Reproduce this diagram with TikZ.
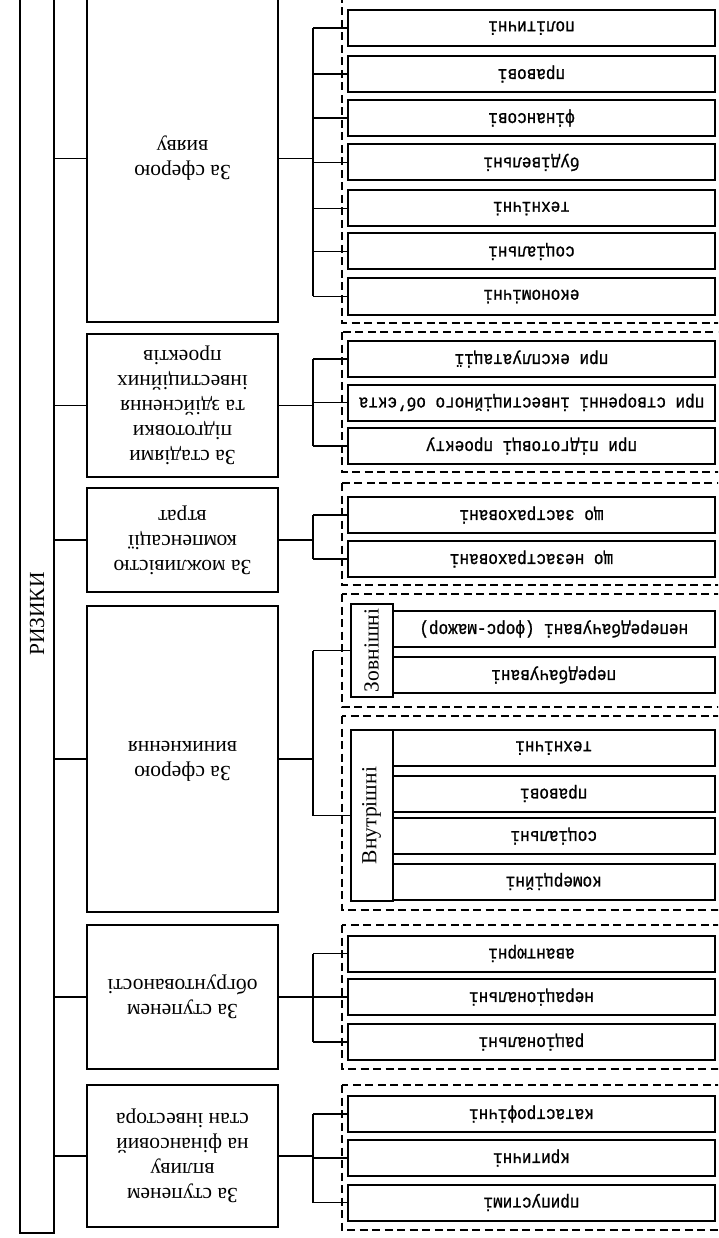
\documentclass[tikz,border=0pt]{standalone}
\usepackage{fontspec}
\setmainfont{Liberation Serif}
\newfontfamily\itemfont[FakeBold=1.2]{Liberation Mono}
\usepackage{graphicx}
\def\flip#1{\rotatebox[origin=c]{180}{\begin{tabular}{@{}c@{}}#1\end{tabular}}}
\def\flipt#1{\rotatebox[origin=c]{180}{\scalebox{1}[1.15]{#1}}}

\begin{document}
\begin{tikzpicture}[x=1pt, y=-1pt,
  cat/.style={draw, line width=2pt, minimum width=191pt, inner sep=0pt, font=\fontsize{21.5}{25}\selectfont},
  item/.style={draw, line width=2pt, minimum width=367pt, minimum height=36pt, inner sep=0pt, font=\fontsize{16}{19}\selectfont\itemfont},
  sub/.style={item, minimum width=322.5pt},
  side/.style={draw, line width=2pt, minimum width=42pt, inner sep=0pt, font=\fontsize{21.5}{25}\selectfont},
  grp/.style={draw, dash pattern=on 8pt off 4.5pt, line width=1.4pt},
  lnk/.style={line width=1.1pt}
]
\clip (0,0) rectangle (718,1238);
\coordinate (brk) at (313,0);

\node[draw, line width=2pt, minimum width=34pt, minimum height=1238pt, inner sep=0pt, font=\fontsize{21.5}{25}\selectfont] (risk) at (37,614) {\rotatebox{90}{РИЗИКИ}};

\node[cat, minimum height=327pt] (sfera) at (182.5,158.5) {\flip{За сферою\\вияву}};
\node[cat, minimum height=143pt] (stadii) at (182.5,405.5) {\flip{За стадіями\\підготовки\\та здійснення\\інвестиційних\\проектів}};
\node[cat, minimum height=104pt] (kompens) at (182.5,540) {\flip{За можливістю\\компенсації\\втрат}};
\node[cat, minimum height=306pt] (vynyk) at (182.5,759) {\flip{За сферою\\виникнення}};
\node[cat, minimum height=144pt] (obgr) at (182.5,997) {\flip{За ступенем\\обгрунтованості}};
\node[cat, minimum height=142pt] (vplyv) at (182.5,1156) {\flip{За ступенем\\впливу\\на фінансовий\\стан інвестора}};

\draw[grp] (342,-5) rectangle (725,323);
\draw[grp] (342,332) rectangle (725,472);
\draw[grp] (342,483) rectangle (725,585);
\draw[grp] (342,594) rectangle (725,707);
\draw[grp] (342,716) rectangle (725,910);
\draw[grp] (342,925) rectangle (725,1069);
\draw[grp] (342,1085) rectangle (725,1230);

\node[item] (pol) at (531.5,28) {\flipt{політичні}};
\node[item] (prav) at (531.5,74) {\flipt{правові}};
\node[item] (fin) at (531.5,118) {\flipt{фінансові}};
\node[item] (bud) at (531.5,162.5) {\flipt{будівельні}};
\node[item] (tech) at (531.5,208.5) {\flipt{технічні}};
\node[item] (soc) at (531.5,251.5) {\flipt{соціальні}};
\node[item] (ekon) at (531.5,296.5) {\flipt{економічні}};

\node[item] (eksp) at (531.5,359) {\flipt{при експлуатації}};
\node[item] (stvor) at (531.5,402.5) {\flipt{при створенні інвестиційного об’єкта}};
\node[item] (pidg) at (531.5,446) {\flipt{при підготовці проекту}};

\node[item] (zastr) at (531.5,515) {\flipt{що застраховані}};
\node[item] (nezastr) at (531.5,559) {\flipt{що незастраховані}};

\node[side, minimum height=93pt] (zovn) at (371.5,650.5) {\rotatebox{90}{Зовнішні}};
\node[sub] (nepered) at (553.75,629) {\flipt{непередбачувані (форс-мажор)}};
\node[sub] (pered) at (553.75,675) {\flipt{передбачувані}};

\node[side, minimum height=171pt] (vnutr) at (371.5,815.5) {\rotatebox{90}{Внутрішні}};
\node[sub] (vtech) at (553.75,748) {\flipt{технічні}};
\node[sub] (vprav) at (553.75,793.5) {\flipt{правові}};
\node[sub] (vsoc) at (553.75,836) {\flipt{соціальні}};
\node[sub] (komerc) at (553.75,881.5) {\flipt{комерційні}};

\node[item] (avant) at (531.5,953.5) {\flipt{авантюрні}};
\node[item] (neraz) at (531.5,997) {\flipt{нераціональні}};
\node[item] (raz) at (531.5,1042) {\flipt{раціональні}};

\node[item] (katastr) at (531.5,1114) {\flipt{катастрофічні}};
\node[item] (kryt) at (531.5,1158) {\flipt{критичні}};
\node[item] (prypust) at (531.5,1202.5) {\flipt{припустимі}};

\draw[lnk] (risk.east |- sfera.west) -- (sfera.west);
\draw[lnk] (risk.east |- stadii.west) -- (stadii.west);
\draw[lnk] (risk.east |- kompens.west) -- (kompens.west);
\draw[lnk] (risk.east |- vynyk.west) -- (vynyk.west);
\draw[lnk] (risk.east |- obgr.west) -- (obgr.west);
\draw[lnk] (risk.east |- vplyv.west) -- (vplyv.west);

\draw[lnk] (sfera.east) -- (sfera.east -| brk);
\draw[lnk] (pol.west -| brk) -- (ekon.west -| brk);
\draw[lnk] (pol.west -| brk) -- (pol.west);
\draw[lnk] (prav.west -| brk) -- (prav.west);
\draw[lnk] (fin.west -| brk) -- (fin.west);
\draw[lnk] (bud.west -| brk) -- (bud.west);
\draw[lnk] (tech.west -| brk) -- (tech.west);
\draw[lnk] (soc.west -| brk) -- (soc.west);
\draw[lnk] (ekon.west -| brk) -- (ekon.west);

\draw[lnk] (stadii.east) -- (stadii.east -| brk);
\draw[lnk] (eksp.west -| brk) -- (pidg.west -| brk);
\draw[lnk] (eksp.west -| brk) -- (eksp.west);
\draw[lnk] (stvor.west -| brk) -- (stvor.west);
\draw[lnk] (pidg.west -| brk) -- (pidg.west);

\draw[lnk] (kompens.east) -- (kompens.east -| brk);
\draw[lnk] (zastr.west -| brk) -- (nezastr.west -| brk);
\draw[lnk] (zastr.west -| brk) -- (zastr.west);
\draw[lnk] (nezastr.west -| brk) -- (nezastr.west);

\draw[lnk] (vynyk.east) -- (vynyk.east -| brk);
\draw[lnk] (zovn.west -| brk) -- (vnutr.west -| brk);
\draw[lnk] (zovn.west -| brk) -- (zovn.west);
\draw[lnk] (vnutr.west -| brk) -- (vnutr.west);

\draw[lnk] (obgr.east) -- (obgr.east -| brk);
\draw[lnk] (avant.west -| brk) -- (raz.west -| brk);
\draw[lnk] (avant.west -| brk) -- (avant.west);
\draw[lnk] (neraz.west -| brk) -- (neraz.west);
\draw[lnk] (raz.west -| brk) -- (raz.west);

\draw[lnk] (vplyv.east) -- (vplyv.east -| brk);
\draw[lnk] (katastr.west -| brk) -- (prypust.west -| brk);
\draw[lnk] (katastr.west -| brk) -- (katastr.west);
\draw[lnk] (kryt.west -| brk) -- (kryt.west);
\draw[lnk] (prypust.west -| brk) -- (prypust.west);
\end{tikzpicture}
\end{document}
